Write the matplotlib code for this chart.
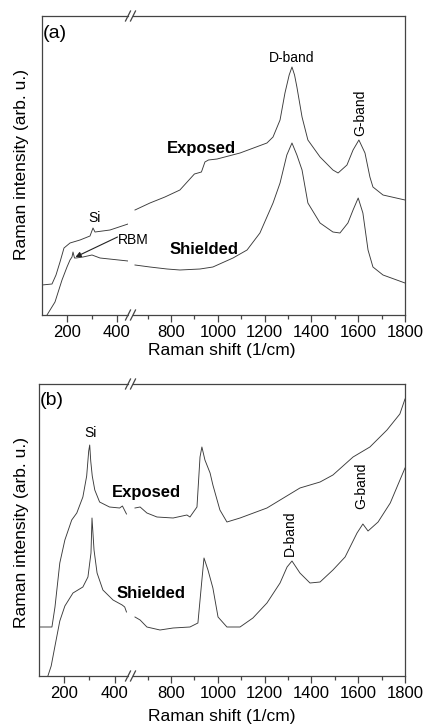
import matplotlib
matplotlib.use("Agg")
import matplotlib.pyplot as plt
from matplotlib.lines import Line2D
from matplotlib.ticker import FixedLocator, NullLocator

plt.rcParams["font.family"] = ["Liberation Sans", "DejaVu Sans"]

W, H = 428, 726
LINE_C = "#3a3a3a"
AX_C = "#444444"

# ------------------------------------------------ data (arb. u.)
# panel (a), left part (100-445 1/cm) and right part (640-1800 1/cm)
A_EXP_LX = [100, 140, 156, 172, 188, 212, 252, 292, 304, 312, 372, 444]
A_EXP_LY = [30, 31, 40, 53, 67, 72, 75, 79, 87, 83, 85, 91]
A_EXP_RX = [646, 710, 774, 838, 900, 930, 945, 960, 997, 1095, 1210, 1236, 1266,
            1287, 1305, 1317, 1328, 1338, 1360, 1385, 1437, 1492, 1514, 1552,
            1578, 1603, 1629, 1650, 1663, 1706, 1800]
A_EXP_RY = [105, 112, 118, 125, 141, 143, 153, 155, 156, 162, 172, 178, 195,
            222, 240, 248, 240, 228, 198, 175, 158, 145, 142, 150,
            165, 175, 162, 138, 128, 120, 115]

A_SHD_LX = [120, 152, 180, 200, 212, 220, 224, 230, 236, 264, 300, 332, 444]
A_SHD_LY = [0, 13, 35, 48, 55, 58, 63, 57, 57, 58, 60, 57, 54]
A_SHD_RX = [646, 710, 783, 838, 924, 979, 1065, 1125, 1180, 1236, 1266, 1295,
            1317, 1338, 1360, 1385, 1437, 1492, 1522, 1556, 1578, 1600, 1620,
            1642, 1663, 1706, 1800]
A_SHD_RY = [50, 48, 46, 45, 46, 48, 57, 65, 82, 112, 132, 160,
            172, 160, 145, 112, 92, 83, 82, 92, 105, 117, 102,
            65, 48, 40, 32]

# panel (b)
B_EXP_LX = [100, 153, 165, 184, 204, 231, 251, 275, 290, 298, 302, 306, 312,
            322, 341, 380, 420, 431, 439, 447]
B_EXP_LY = [49, 49, 69, 113, 136, 156, 163, 179, 200, 225, 231, 215, 200,
            186, 174, 169, 168, 170, 166, 162]
B_EXP_RX = [646, 668, 697, 740, 809, 868, 881, 911, 924, 932, 945, 967, 979,
            1009, 1039, 1095, 1210, 1351, 1437, 1492, 1578, 1650, 1723, 1778, 1800]
B_EXP_RY = [168, 169, 163, 159, 158, 161, 159, 169, 219, 229, 216, 203, 191,
            166, 154, 158, 168, 188, 194, 201, 219, 229, 246, 262, 277]

B_SHD_LX = [137, 150, 165, 184, 204, 236, 275, 295, 307, 311, 319, 331, 354,
            394, 430, 440, 447]
B_SHD_LY = [0, 10, 30, 55, 70, 83, 89, 99, 123, 158, 126, 103, 86,
            76, 71, 69, 64]
B_SHD_RX = [646, 668, 697, 753, 809, 881, 915, 932, 941, 958, 979, 1001, 1039,
            1095, 1150, 1210, 1266, 1296, 1317, 1351, 1394, 1437, 1492, 1544,
            1595, 1620, 1642, 1685, 1737, 1800]
B_SHD_RY = [59, 56, 49, 46, 48, 49, 53, 96, 118, 106, 88, 59, 49,
            49, 58, 73, 93, 109, 115, 103, 93, 94, 106, 119,
            143, 152, 145, 154, 173, 208]

L_MAJOR, L_MINOR = [200, 400], [300]
R_MAJOR = [800, 1000, 1200, 1400, 1600, 1800]
R_MINOR = [700, 900, 1100, 1300, 1500, 1700]

fig = plt.figure(figsize=(W / 100, H / 100), dpi=100)


def px_rect(x0, x1, ytop, ybot):
    return [x0 / W, 1 - ybot / H, (x1 - x0) / W, (ybot - ytop) / H]


def slash(x, y):
    fig.add_artist(Line2D([(x - 2.5) / W, (x + 2.5) / W],
                          [1 - (y + 5) / H, 1 - (y - 5) / H],
                          transform=fig.transFigure, color=AX_C, lw=0.9))


def panel(xl0, ytop, ybot, xlim_l, xlim_r, lx, ly, rx, ry):
    axl = fig.add_axes(px_rect(xl0, 128, ytop, ybot))
    axr = fig.add_axes(px_rect(133, 405, ytop, ybot), sharey=axl)
    for (x, y) in zip(lx, ly):
        axl.plot(x, y, color=LINE_C, lw=0.65)
    for (x, y) in zip(rx, ry):
        axr.plot(x, y, color=LINE_C, lw=0.65)
    axl.set_xlim(*xlim_l)
    axr.set_xlim(*xlim_r)
    axl.set_ylim(0, ybot - ytop)
    axl.spines["right"].set_visible(False)
    axr.spines["left"].set_visible(False)
    axl.xaxis.set_major_locator(FixedLocator(L_MAJOR))
    axl.xaxis.set_minor_locator(FixedLocator(L_MINOR))
    axr.xaxis.set_major_locator(FixedLocator(R_MAJOR))
    axr.xaxis.set_minor_locator(FixedLocator(R_MINOR))
    for ax in (axl, axr):
        ax.patch.set_visible(False)
        ax.yaxis.set_major_locator(NullLocator())
        ax.tick_params(axis="y", left=False, right=False, labelleft=False)
        ax.tick_params(axis="x", which="major", direction="out", length=5,
                       width=0.9, color=AX_C, labelsize=12, pad=2)
        ax.tick_params(axis="x", which="minor", direction="out", length=3,
                       width=0.9, color=AX_C)
        for s in ax.spines.values():
            s.set_color(AX_C)
            s.set_linewidth(0.9)
    for y in (ytop, ybot):
        slash(128, y)
        slash(133, y)
    return axl, axr


# ---------------------------------------------------------------- panel (a)
al, ar = panel(42, 16, 315, (100, 444), (637.6, 1800),
               [A_EXP_LX, A_SHD_LX], [A_EXP_LY, A_SHD_LY],
               [A_EXP_RX, A_SHD_RX], [A_EXP_RY, A_SHD_RY])
al.text(104, 290, "(a)", fontsize=14, ha="left", va="top")
al.text(312, 97, "Si", fontsize=10, ha="center", va="center")
al.text(404, 75, "RBM", fontsize=10, ha="left", va="center")
al.annotate("", xy=(234, 58), xytext=(402, 78),
            arrowprops=dict(arrowstyle="-|>", color="#222222", lw=0.8,
                            mutation_scale=8, shrinkA=0, shrinkB=0),
            annotation_clip=False)
ar.text(932, 167, "Exposed", fontsize=12, fontweight="bold", ha="center", va="center")
ar.text(941, 65, "Shielded", fontsize=12, fontweight="bold", ha="center", va="center")
ar.text(1317, 257, "D-band", fontsize=10, ha="center", va="center")
ar.text(1608, 202, "G-band", fontsize=10, ha="center", va="center", rotation=90)

# ---------------------------------------------------------------- panel (b)
bl, br = panel(38.5, 384, 676, (100, 453), (637.6, 1800),
               [B_EXP_LX, B_SHD_LX], [B_EXP_LY, B_SHD_LY],
               [B_EXP_RX, B_SHD_RX], [B_EXP_RY, B_SHD_RY])
bl.text(104, 284, "(b)", fontsize=14, ha="left", va="top")
bl.text(307, 243, "Si", fontsize=10, ha="center", va="center")
br.text(693, 183, "Exposed", fontsize=12, fontweight="bold", ha="center", va="center")
br.text(715, 83, "Shielded", fontsize=12, fontweight="bold", ha="center", va="center")
br.text(1308, 143, "D-band", fontsize=10, ha="center", va="center", rotation=90)
br.text(1615, 190, "G-band", fontsize=10, ha="center", va="center", rotation=90)

# ---------------------------------------------------------------- axis labels
for yc in (165, 533):
    fig.text(22 / W, 1 - yc / H, "Raman intensity (arb. u.)", fontsize=12.5,
             rotation=90, ha="center", va="center")
for yc in (350, 717):
    fig.text(222 / W, 1 - yc / H, "Raman shift (1/cm)", fontsize=12.5,
             ha="center", va="center")

fig.savefig("out.png", dpi=100)
